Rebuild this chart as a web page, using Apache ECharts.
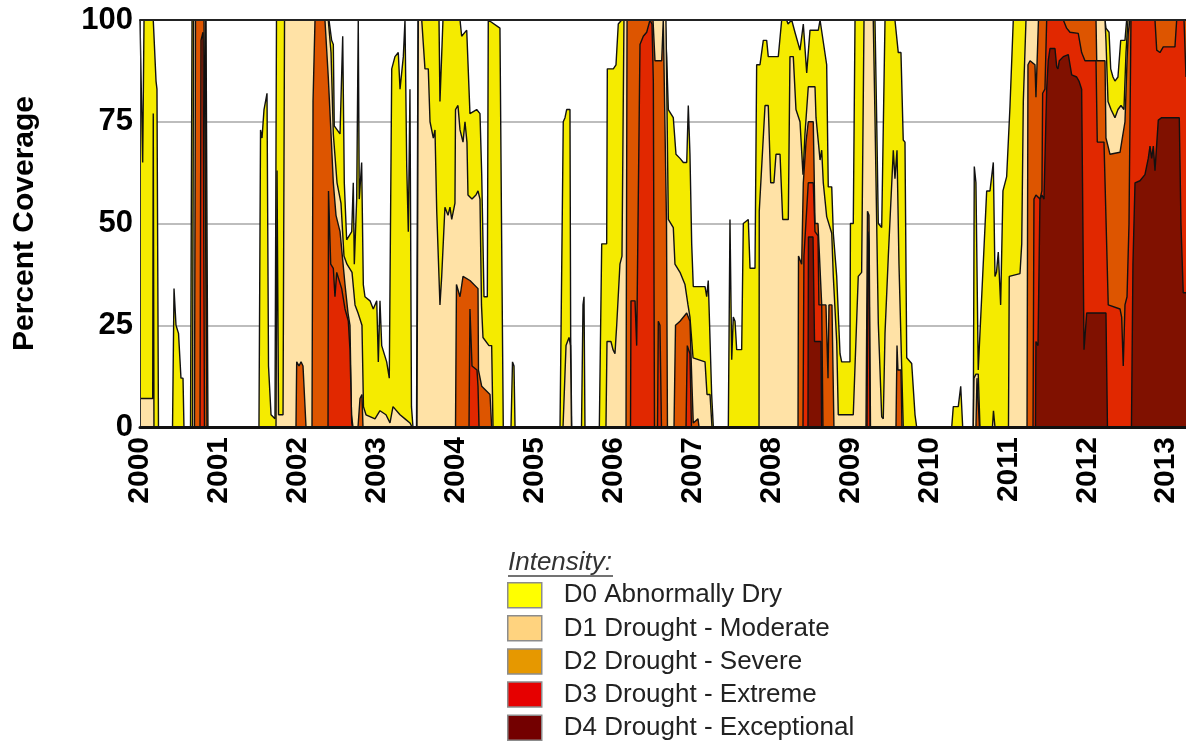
<!DOCTYPE html>
<html lang="en">
<head>
<meta charset="UTF-8">
<title>Percent Coverage</title>
<script src="https://cdn.jsdelivr.net/npm/echarts@6/dist/echarts.min.js"></script>
<style>
  * { margin: 0; padding: 0 }
  html, body { width: 100%; height: 100%; background: #fff; }
  #main { width: 1186px; height: 742px; }
</style>
</head>
<body>
<div id="main"></div>
<script>
// drought categories, cumulative coverage (D0 = D0..D4, D4 = D4 only)
var seriesNames = ['D0 Abnormally Dry', 'D1 Drought - Moderate', 'D2 Drought - Severe',
                   'D3 Drought - Extreme', 'D4 Drought - Exceptional'];
var fillColors = ['#f5eb00', '#ffe2a6', '#dd5500', '#e12800', '#801100'];
var legendColors = ['#ffff00', '#ffd37f', '#e69800', '#e60000', '#730000'];
var yTicks = [0, 25, 50, 75, 100];
var yearStart = 2000, yearEnd = 2013.251;

var d0 = [[2000.000,100],[2000.013,100],[2000.034,65],[2000.051,100],[2000.168,100],[2000.203,85],[2000.215,83],[2000.234,0],
  [2000.412,0],[2000.431,34],[2000.456,25],[2000.488,23],[2000.519,12],[2000.545,12],[2000.557,0],
  [2000.640,0],[2000.659,100],[2000.836,100],[2000.861,0],
  [2001.507,0],[2001.527,73],[2001.546,71],[2001.571,78],[2001.590,78],[2001.609,82],[2001.628,15],[2001.660,3],[2001.710,2],[2001.729,100],
  [2002.394,100],[2002.428,95],[2002.449,94],[2002.461,74],[2002.534,72],[2002.568,96],[2002.588,60],[2002.618,46],[2002.682,48],[2002.702,60],[2002.715,40],[2002.745,56],[2002.765,100],[2002.778,56],[2002.808,65],[2002.829,35],[2002.850,32],[2002.914,31],[2002.955,29],[2002.999,31],[2003.019,16],[2003.040,31],[2003.062,20],[2003.125,16],[2003.158,12],[2003.189,88],[2003.230,91],[2003.272,92],[2003.294,83],[2003.315,83],[2003.336,91],[2003.357,100],[2003.379,64],[2003.399,48],[2003.420,83],[2003.439,5],[2003.458,0],[2003.503,0],[2003.522,100],
  [2003.788,100],[2003.800,80],[2003.819,90],[2003.838,100],[2004.054,100],[2004.075,96],[2004.139,97.5],[2004.180,77],[2004.265,78],[2004.307,77],[2004.329,62],[2004.349,62],[2004.358,32],[2004.400,32],[2004.412,100],[2004.560,98],[2004.582,45],[2004.602,0],
  [2004.700,0],[2004.719,16],[2004.738,15],[2004.751,0],
  [2005.321,0],[2005.362,75],[2005.384,76],[2005.405,78],[2005.447,78],[2005.456,22],[2005.469,0],
  [2005.593,0],[2005.612,30],[2005.625,32],[2005.637,0],
  [2005.819,0],[2005.849,45],[2005.912,45],[2005.920,88],[2005.996,88],[2006.030,89],[2006.059,99],[2006.102,100],
  [2006.651,100],[2006.672,91],[2006.693,78],[2006.756,76],[2006.790,67],[2006.841,66],[2006.883,65],[2006.926,65],[2006.946,79],[2006.967,67],[2006.989,45],[2007.009,34.5],[2007.158,34.5],[2007.179,32],[2007.199,36],[2007.221,36],[2007.242,8],[2007.263,0],
  [2007.453,0],[2007.474,51],[2007.496,16.5],[2007.516,27],[2007.538,26],[2007.559,19],[2007.622,19],[2007.643,50],[2007.706,51],[2007.728,39],[2007.791,39],[2007.812,89],[2007.854,89],[2007.896,95],[2007.939,95],[2007.959,91],[2008.086,91],[2008.129,100],[2008.192,100],[2008.209,99],[2008.256,100],[2008.297,97],[2008.361,92.6],[2008.403,99],[2008.446,87],[2008.488,97.5],[2008.593,97.5],[2008.615,100],[2008.636,100],[2008.699,89],[2008.719,59],[2008.763,59],[2008.783,47.6],[2008.826,37],[2008.868,18],[2008.889,16],[2008.994,16],[2009.000,50],[2009.036,50],[2009.058,100],[2009.311,100],[2009.333,75],[2009.353,50],[2009.396,49],[2009.438,100],[2009.564,100],[2009.606,92],[2009.640,92],[2009.669,70.5],[2009.691,70],[2009.713,17],[2009.776,15.6],[2009.818,3],[2009.839,0],
  [2010.283,0],[2010.303,5],[2010.366,5],[2010.397,10],[2010.422,0],
  [2010.556,0],[2010.569,64],[2010.590,60],[2010.619,14],[2010.641,14],[2010.726,58],[2010.768,58],[2010.810,65],[2010.831,37],[2010.850,38],[2010.873,43],[2010.903,30],[2010.932,58],[2010.979,61.5],[2011.021,78.7],[2011.043,79],[2011.063,100],
  [2012.225,100],[2012.237,98],[2012.276,97],[2012.297,88],[2012.326,86],[2012.351,85],[2012.389,86],[2012.424,95],[2012.478,95],[2012.499,100],[2013.251,100]];

var d1 = [[2000.000,7],[2000.161,7],[2000.168,77],[2000.177,0],
  [2000.665,0],[2000.678,100],[2000.830,100],[2000.842,0],
  [2001.723,0],[2001.736,63],[2001.755,3],[2001.812,3],[2001.831,100],
  [2002.385,100],[2002.420,92],[2002.449,72],[2002.496,60],[2002.546,55],[2002.584,42],[2002.622,40],[2002.686,38],[2002.724,30],[2002.762,28],[2002.812,25],[2002.831,5],[2002.863,3],[2002.977,2],[2003.040,4],[2003.116,3],[2003.167,1],[2003.205,5],[2003.294,3],[2003.357,2],[2003.420,1],[2003.446,0],
  [2003.509,0],[2003.526,100],[2003.569,100],[2003.610,88],[2003.652,88],[2003.674,75],[2003.716,71],[2003.737,73],[2003.759,53],[2003.800,30],[2003.822,37],[2003.863,54],[2003.902,52],[2003.927,54],[2003.949,51],[2003.990,55],[2003.997,78],[2004.028,79],[2004.054,73],[2004.092,70],[2004.117,75],[2004.142,70],[2004.155,57],[2004.206,56],[2004.256,57],[2004.282,58],[2004.307,56],[2004.326,30],[2004.345,22],[2004.421,20],[2004.455,20],[2004.472,0],
  [2005.359,0],[2005.397,20],[2005.435,22],[2005.454,20],[2005.466,0],
  [2005.903,0],[2005.916,21],[2005.966,21],[2005.992,19],[2006.017,18],[2006.039,25],[2006.080,40],[2006.106,42],[2006.131,100],
  [2006.663,100],[2006.693,51],[2006.756,49],[2006.777,40],[2006.841,38],[2006.904,35],[2006.942,30],[2006.967,27],[2007.006,17],[2007.158,16],[2007.183,8],[2007.221,8],[2007.246,0],
  [2007.842,0],[2007.845,53],[2007.918,79],[2007.959,79],[2007.990,60],[2008.031,60],[2008.057,67],[2008.108,67],[2008.142,51],[2008.213,51],[2008.234,91],[2008.276,91],[2008.310,78],[2008.361,75],[2008.399,62],[2008.424,72],[2008.466,83.6],[2008.551,83.6],[2008.564,76],[2008.615,65.6],[2008.636,68],[2008.656,60],[2008.699,51.7],[2008.719,51.7],[2008.763,47.6],[2008.783,37],[2008.826,21],[2008.846,3],[2009.036,3],[2009.099,37],[2009.142,38],[2009.172,100],[2009.289,100],[2009.311,76],[2009.353,25.5],[2009.396,2.5],[2009.416,2],[2009.438,23],[2009.480,42],[2009.543,68],[2009.564,61],[2009.590,68],[2009.615,40],[2009.649,15],[2009.669,0],
  [2010.556,0],[2010.565,12],[2010.590,13],[2010.619,13],[2010.641,0],
  [2010.799,0],[2010.812,4],[2010.831,0],
  [2011.002,0],[2011.012,37],[2011.148,37.7],[2011.170,45],[2011.190,80],[2011.224,100],
  [2012.225,100],[2012.237,95],[2012.263,80],[2012.301,78],[2012.351,76],[2012.389,78],[2012.427,79],[2012.465,78],[2012.491,92],[2012.516,100],[2013.251,100]];

var d2 = [[2000.690,0],[2000.703,100],[2000.811,100],[2000.849,0],
  [2001.976,0],[2001.985,16],[2002.014,15],[2002.040,16],[2002.065,15],[2002.103,0],
  [2002.179,0],[2002.192,80],[2002.217,100],[2002.343,100],[2002.385,86],[2002.420,72],[2002.449,60],[2002.483,52],[2002.534,48],[2002.597,35],[2002.635,28],[2002.660,25],[2002.679,3],[2002.698,0],
  [2002.762,0],[2002.787,7],[2002.812,8],[2002.825,0],
  [2003.997,0],[2004.009,35],[2004.054,32],[2004.092,37],[2004.180,36],[2004.282,34],[2004.288,14],[2004.329,10],[2004.434,8],[2004.455,0],
  [2006.157,0],[2006.170,100],[2006.499,100],[2006.524,90],[2006.609,90],[2006.629,100],[2006.651,100],[2006.670,50],[2006.682,0],[2006.765,0],[2006.784,25],[2006.841,26],[2006.926,28],[2006.967,26],[2006.993,10],[2007.009,1],[2007.069,2],[2007.082,0],
  [2008.336,0],[2008.342,42],[2008.382,40],[2008.403,60],[2008.437,70],[2008.466,75],[2008.529,75],[2008.551,50],[2008.589,50],[2008.636,30],[2008.690,30],[2008.716,12],[2008.728,30],[2008.766,30],[2008.791,0],
  [2009.197,0],[2009.216,53],[2009.235,52],[2009.254,0],
  [2009.577,0],[2009.590,20],[2009.602,14],[2009.640,14],[2009.653,0],
  [2010.590,0],[2010.603,12],[2010.622,12],[2010.635,0],
  [2011.237,0],[2011.249,89],[2011.275,90],[2011.338,89],[2011.350,81],[2011.363,81],[2011.382,100],[2012.111,100],[2012.120,90],[2012.225,90],[2012.237,71],[2012.263,69],[2012.288,67],[2012.415,67.5],[2012.436,70],[2012.478,75],[2012.504,90],[2012.520,97],[2012.541,100],[2013.251,100]];

var d3 = [[2000.760,0],[2000.773,95],[2000.798,97],[2000.817,0],
  [2002.382,0],[2002.388,58],[2002.416,40],[2002.449,39],[2002.470,32],[2002.492,38],[2002.512,38],[2002.555,34],[2002.597,29],[2002.639,26],[2002.660,19],[2002.682,1],[2002.692,0],
  [2004.168,0],[2004.180,29],[2004.206,15],[2004.269,14],[2004.282,10],[2004.295,0],
  [2006.214,0],[2006.220,31],[2006.271,31],[2006.292,20],[2006.312,20],[2006.334,94],[2006.376,96],[2006.419,97],[2006.461,100],[2006.486,99],[2006.503,85],[2006.518,0],[2006.556,0],[2006.566,26],[2006.587,25],[2006.606,0],[2006.917,0],[2006.933,20],[2006.967,18],[2006.986,0],
  [2008.399,0],[2008.411,42],[2008.466,60],[2008.529,60],[2008.551,48],[2008.589,47],[2008.601,30],[2008.636,30],[2008.652,0],
  [2009.210,0],[2009.223,48],[2009.235,45],[2009.248,0],
  [2011.313,0],[2011.325,56],[2011.350,57],[2011.401,56],[2011.426,58],[2011.435,82],[2011.464,83],[2011.486,100],[2011.697,100],[2011.739,98],[2011.781,97],[2011.803,96.7],[2011.886,96.7],[2011.929,92],[2011.971,90],[2012.111,90],[2012.127,70],[2012.212,70],[2012.237,70],[2012.266,30],[2012.415,29],[2012.436,27],[2012.456,15],[2012.478,30],[2012.504,32],[2012.529,50],[2012.554,100],[2012.858,100],[2012.880,92.6],[2012.921,92],[2012.963,93.4],[2013.111,93.4],[2013.133,100],[2013.226,100],[2013.251,86]];

var d4 = [[2008.462,0],[2008.468,46.7],[2008.526,46.7],[2008.545,21],[2008.627,21],[2008.636,0],
  [2011.344,0],[2011.350,21],[2011.376,20],[2011.401,56],[2011.426,57],[2011.452,56],[2011.464,56],[2011.486,83],[2011.506,90],[2011.528,93],[2011.591,93],[2011.613,88.5],[2011.629,88],[2011.646,90],[2011.697,91],[2011.760,91.5],[2011.781,91.5],[2011.803,86.5],[2011.866,86],[2011.895,85],[2011.929,83],[2011.940,60],[2011.959,19],[2011.984,19],[2011.993,28],[2012.237,28],[2012.256,0],
  [2012.560,0],[2012.579,40],[2012.605,60],[2012.668,60.5],[2012.731,62],[2012.773,66],[2012.795,69],[2012.816,66],[2012.837,69],[2012.858,63],[2012.900,75.4],[2012.943,76],[2013.166,76],[2013.187,50],[2013.216,33],[2013.251,33]];

var coverage = [d0, d1, d2, d3, d4];
var fontFam = '"Liberation Sans", Arial, Helvetica, sans-serif';

var myChart = echarts.init(document.getElementById('main'));

var option = {
    animation: false,
    backgroundColor: '#fff',
    grid: { left: 140, right: 0, top: 20, bottom: 315 },
    xAxis: [{
        type: 'value',
        min: yearStart,
        max: yearEnd,
        interval: 1,
        z: 10,
        axisLine: { lineStyle: { color: '#111', width: 3 } },
        axisTick: { show: false },
        splitLine: { show: false },
        axisLabel: {
            rotate: 90,
            margin: 10,
            showMaxLabel: false,
            color: '#000',
            fontSize: 30,
            fontWeight: 'bold',
            fontFamily: fontFam,
            formatter: function (v) { return v % 1 === 0 ? String(v) : ''; }
        }
    }, {
        // top frame line
        type: 'value',
        position: 'top',
        min: yearStart,
        max: yearEnd,
        z: 10,
        axisLine: { show: true, onZero: false, lineStyle: { color: '#222', width: 2 } },
        axisTick: { show: false },
        axisLabel: { show: false },
        splitLine: { show: false }
    }],
    yAxis: [{
        type: 'value',
        min: 0,
        max: 100,
        interval: 25,
        name: 'Percent Coverage',
        nameLocation: 'middle',
        nameGap: 100,
        nameTextStyle: { color: '#000', fontSize: 30, fontWeight: 'bold', fontFamily: fontFam },
        axisLine: { show: false },
        axisTick: { show: false },
        axisLabel: {
            margin: 7,
            color: '#000',
            fontSize: 31,
            fontWeight: 'bold',
            fontFamily: fontFam,
            formatter: function (v) { return yTicks.indexOf(v) >= 0 ? String(v) : ''; }
        },
        splitLine: { lineStyle: { color: '#bdbdbd', width: 2 } }
    }, {
        // left frame line, drawn above the areas
        type: 'value',
        position: 'left',
        min: 0,
        max: 100,
        z: 10,
        axisLine: { show: true, onZero: false, lineStyle: { color: '#333', width: 1 } },
        axisTick: { show: false },
        axisLabel: { show: false },
        splitLine: { show: false }
    }],
    legend: {
        orient: 'vertical',
        left: 507,
        top: 582,
        height: 175,
        padding: 0,
        icon: 'rect',
        itemWidth: 34,
        itemHeight: 25,
        itemGap: 6.6,
        selectedMode: false,
        textStyle: {
            color: '#222',
            fontSize: 26,
            fontFamily: fontFam,
            lineHeight: 25,
            padding: [0, 0, 0, 17]
        },
        data: seriesNames.map(function (n, i) {
            return { name: n, itemStyle: { color: legendColors[i], borderColor: '#8c8c8c', borderWidth: 1.5 } };
        })
    },
    graphic: [{
        type: 'text',
        left: 508,
        top: 550,
        style: { text: 'Intensity:', font: 'italic 26px ' + fontFam, fill: '#333' }
    }, {
        type: 'line',
        shape: { x1: 508, y1: 576, x2: 613, y2: 576 },
        style: { stroke: '#444', lineWidth: 1.5 }
    }],
    series: coverage.map(function (d, i) {
        return {
            name: seriesNames[i],
            type: 'line',
            data: d,
            color: fillColors[i],
            symbol: 'none',
            silent: true,
            lineStyle: { color: '#111', width: 1.4 },
            areaStyle: { color: fillColors[i], opacity: 1 },
            z: 2 + i
        };
    })
};

myChart.setOption(option);
</script>
</body>
</html>
